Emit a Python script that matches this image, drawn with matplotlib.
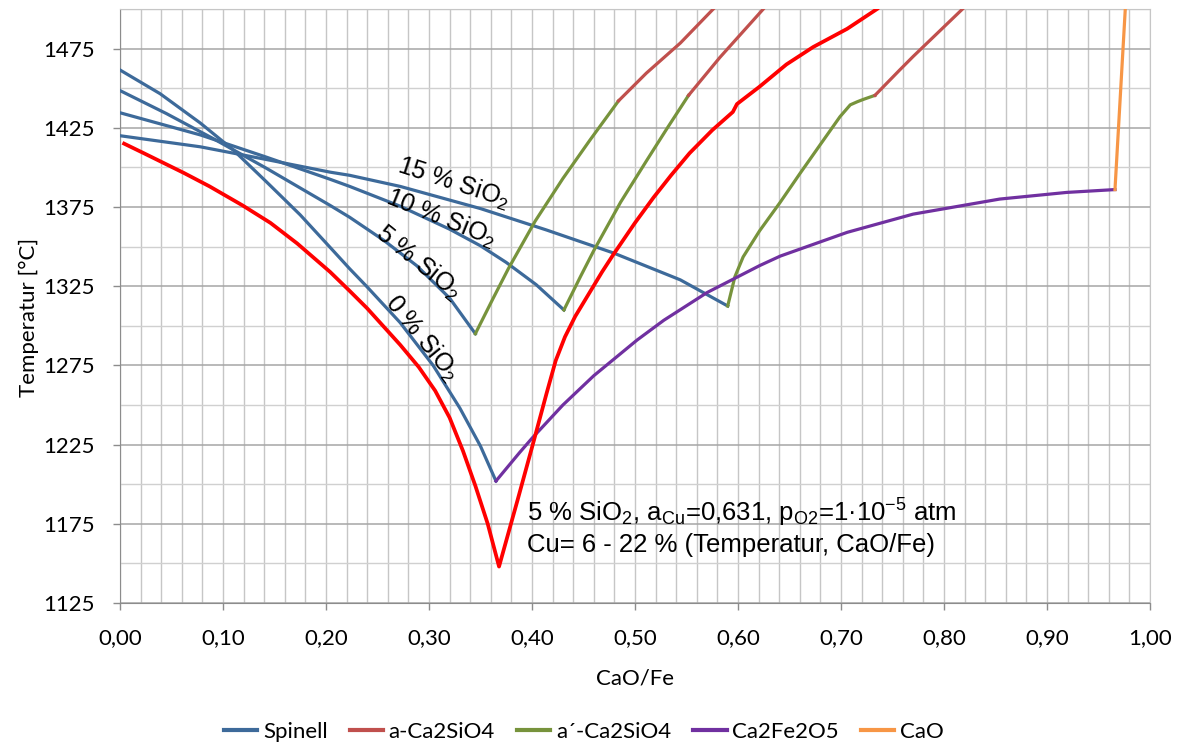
import matplotlib
matplotlib.use("Agg")
import matplotlib.pyplot as plt
from matplotlib.ticker import MultipleLocator, FuncFormatter
from matplotlib.lines import Line2D

# Spinell liquidus for 0, 5, 10, 15 % SiO2 (CaO/Fe, T in degC)
sp0_x = [0.000, 0.039, 0.078, 0.110, 0.142, 0.175, 0.204, 0.223, 0.240, 0.272, 0.304, 0.330, 0.350, 0.365]
sp0_T = [1461.5, 1446.5, 1428, 1411, 1391, 1370, 1349.5, 1336, 1324.5, 1302, 1275, 1248, 1224, 1202]

sp5_x = [0.000, 0.045, 0.091, 0.142, 0.204, 0.223, 0.256, 0.288, 0.320, 0.345]
sp5_T = [1448.5, 1434, 1418, 1399.5, 1376, 1368.5, 1354, 1338, 1317.5, 1295]

sp10_x = [0.000, 0.078, 0.142, 0.204, 0.223, 0.272, 0.320, 0.350, 0.375, 0.404, 0.431]
sp10_T = [1434.5, 1420.5, 1406.5, 1392.5, 1388, 1375.5, 1361, 1350.5, 1340, 1326, 1310]

sp15_x = [0.000, 0.078, 0.142, 0.204, 0.223, 0.272, 0.350, 0.414, 0.479, 0.544, 0.590]
sp15_T = [1420, 1413, 1405, 1397, 1395, 1388, 1374, 1360.5, 1346, 1329, 1312.5]

# a'-Ca2SiO4 branches
g1_x = [0.345, 0.362, 0.377, 0.403, 0.430, 0.456, 0.484]
g1_T = [1295, 1317, 1336, 1366, 1393, 1417, 1442]
g2_x = [0.431, 0.447, 0.460, 0.486, 0.511, 0.531, 0.552]
g2_T = [1310, 1331, 1347.5, 1378, 1404, 1424.5, 1445.5]
g3_x = [0.590, 0.597, 0.605, 0.621, 0.641, 0.660, 0.680, 0.699, 0.705, 0.709, 0.716, 0.722, 0.733]
g3_T = [1312.5, 1331, 1343.5, 1360, 1378, 1396, 1414.5, 1432, 1436.5, 1439.5, 1441.5, 1443, 1445.5]

# a-Ca2SiO4 branches
b1_x = [0.484, 0.511, 0.544, 0.576]
b1_T = [1442, 1459.5, 1478.5, 1500]
b2_x = [0.552, 0.5825, 0.6246]
b2_T = [1445.5, 1469.5, 1500]
b3_x = [0.733, 0.757, 0.770, 0.818]
b3_T = [1445.5, 1461.5, 1470, 1500]

# Ca2Fe2O5 and CaO
c2f_x = [0.365, 0.388, 0.400, 0.430, 0.460, 0.502, 0.528, 0.570, 0.621, 0.641, 0.706, 0.770, 0.854, 0.919, 0.966]
c2f_T = [1202, 1220, 1229, 1250, 1268.5, 1291, 1303.5, 1321, 1338, 1344, 1359, 1370.5, 1380, 1384.2, 1386]
cao_x = [0.966, 0.976]
cao_T = [1386, 1500]

# liquidus at 5 % SiO2, Cu 6-22 %
liq_x = [0.004, 0.023, 0.062, 0.087, 0.119, 0.146, 0.172, 0.204, 0.223, 0.240, 0.272, 0.290, 0.306,
         0.320, 0.333, 0.345, 0.357, 0.368, 0.386, 0.402, 0.414, 0.423, 0.432, 0.442, 0.455, 0.468,
         0.479, 0.500, 0.518, 0.535, 0.553, 0.575, 0.595, 0.599, 0.621, 0.647, 0.673, 0.706, 0.735]
liq_T = [1415, 1409, 1396.5, 1388, 1376, 1365, 1352, 1334, 1322, 1311, 1288, 1274, 1259,
         1242, 1221, 1199, 1175, 1148, 1190, 1228, 1257, 1278, 1293, 1306, 1320, 1334,
         1345, 1365, 1381, 1395, 1409, 1423.5, 1435, 1440, 1451, 1465, 1476, 1487.5, 1500]

legend_names = ["Spinell", "a-Ca2SiO4", "a´-Ca2SiO4", "Ca2Fe2O5", "CaO"]

SPINELL = "#3D6A9A"
A_C2S = "#C0504D"
A2_C2S = "#77933C"
C2F = "#7030A0"
CAO = "#F79646"
LIQ = "#FF0000"

plt.rcParams["font.family"] = "Lato"
plt.rcParams["mathtext.fontset"] = "custom"
plt.rcParams["mathtext.rm"] = "Liberation Sans"
plt.rcParams["mathtext.it"] = "Liberation Sans:italic"
plt.rcParams["mathtext.bf"] = "Liberation Sans:bold"

fig = plt.figure(figsize=(11.82, 7.44), dpi=100)
ax = fig.add_axes([120 / 1182, 141 / 744, 1030 / 1182, 594 / 744])

lw = 2.3
for xs, ts in [(sp0_x, sp0_T), (sp5_x, sp5_T), (sp10_x, sp10_T), (sp15_x, sp15_T)]:
    ax.plot(xs, ts, color=SPINELL, lw=lw, solid_joinstyle="round", zorder=3)
for xs, ts in [(g1_x, g1_T), (g2_x, g2_T), (g3_x, g3_T)]:
    ax.plot(xs, ts, color=A2_C2S, lw=lw, solid_joinstyle="round", zorder=3)
for xs, ts in [(b1_x, b1_T), (b2_x, b2_T), (b3_x, b3_T)]:
    ax.plot(xs, ts, color=A_C2S, lw=lw, solid_joinstyle="round", zorder=3)
ax.plot(c2f_x, c2f_T, color=C2F, lw=lw, solid_joinstyle="round", zorder=3)
ax.plot(cao_x, cao_T, color=CAO, lw=lw, zorder=3)
ax.plot(liq_x, liq_T, color=LIQ, lw=2.7, solid_joinstyle="round", zorder=4)

ax.set_xlim(0, 1)
ax.set_ylim(1125, 1500)

# grid: every 0.02 in x, every 25 K in y (darker at labelled values)
ax.xaxis.set_major_locator(MultipleLocator(0.1))
ax.xaxis.set_minor_locator(MultipleLocator(0.02))
ax.set_yticks(range(1125, 1500, 50))
ax.set_yticks(range(1150, 1501, 50), minor=True)
ax.grid(which="minor", axis="x", color="#c6c6c6", lw=1.0)
ax.grid(which="major", axis="x", color="#c6c6c6", lw=1.0)
ax.grid(which="major", axis="y", color="#a6a6a6", lw=1.1)
ax.grid(which="minor", axis="y", color="#d0d0d0", lw=1.0)
ax.set_axisbelow(True)

ax.xaxis.set_major_formatter(FuncFormatter(lambda v, p: f"{v:.2f}".replace(".", ",")))
ax.tick_params(which="major", length=5, width=1, color="#8c8c8c", labelsize=16, pad=13)
ax.tick_params(which="minor", length=0)
for s in ["left", "bottom"]:
    ax.spines[s].set_color("#8c8c8c")
for s in ["top", "right"]:
    ax.spines[s].set_color("#c6c6c6")

ax.set_xlabel("CaO/Fe", fontsize=16)
ax.xaxis.set_label_coords(0.5, -0.111)
ax.set_ylabel("Temperatur [°C]", fontsize=16)
ax.yaxis.set_label_coords(-0.079, 0.4815)

# curve labels
arial = dict(family="Liberation Sans", fontsize=18, ha="center", va="center")
ax.text(0.324, 1390, r"15 % SiO$_2$", rotation=-18, **arial)
ax.text(0.312, 1368, r"10 % SiO$_2$", rotation=-22, **arial)
ax.text(0.290, 1340, r"5 % SiO$_2$", rotation=-39, **arial)
ax.text(0.2935, 1292, r"0 % SiO$_2$", rotation=-51, **arial)

ax.text(0.395, 1176.3, r"5 % SiO$_2$, a$_\mathrm{Cu}$=0,631, p$_\mathrm{O2}$=1·10$^\mathrm{-5}$ atm",
        family="Liberation Sans", fontsize=18.5, ha="left", va="baseline")
ax.text(0.395, 1157.4, "Cu= 6 - 22 % (Temperatur, CaO/Fe)",
        family="Liberation Sans", fontsize=18.5, ha="left", va="baseline")

handles = [Line2D([], [], color=c, lw=3) for c in [SPINELL, A_C2S, A2_C2S, C2F, CAO]]
fig.legend(handles, legend_names, loc="center", bbox_to_anchor=(0.494, 0.016), ncol=5,
           frameon=False, fontsize=16, handlelength=1.5, handletextpad=0.25, columnspacing=1.0)

fig.savefig("out.png", dpi=100)
